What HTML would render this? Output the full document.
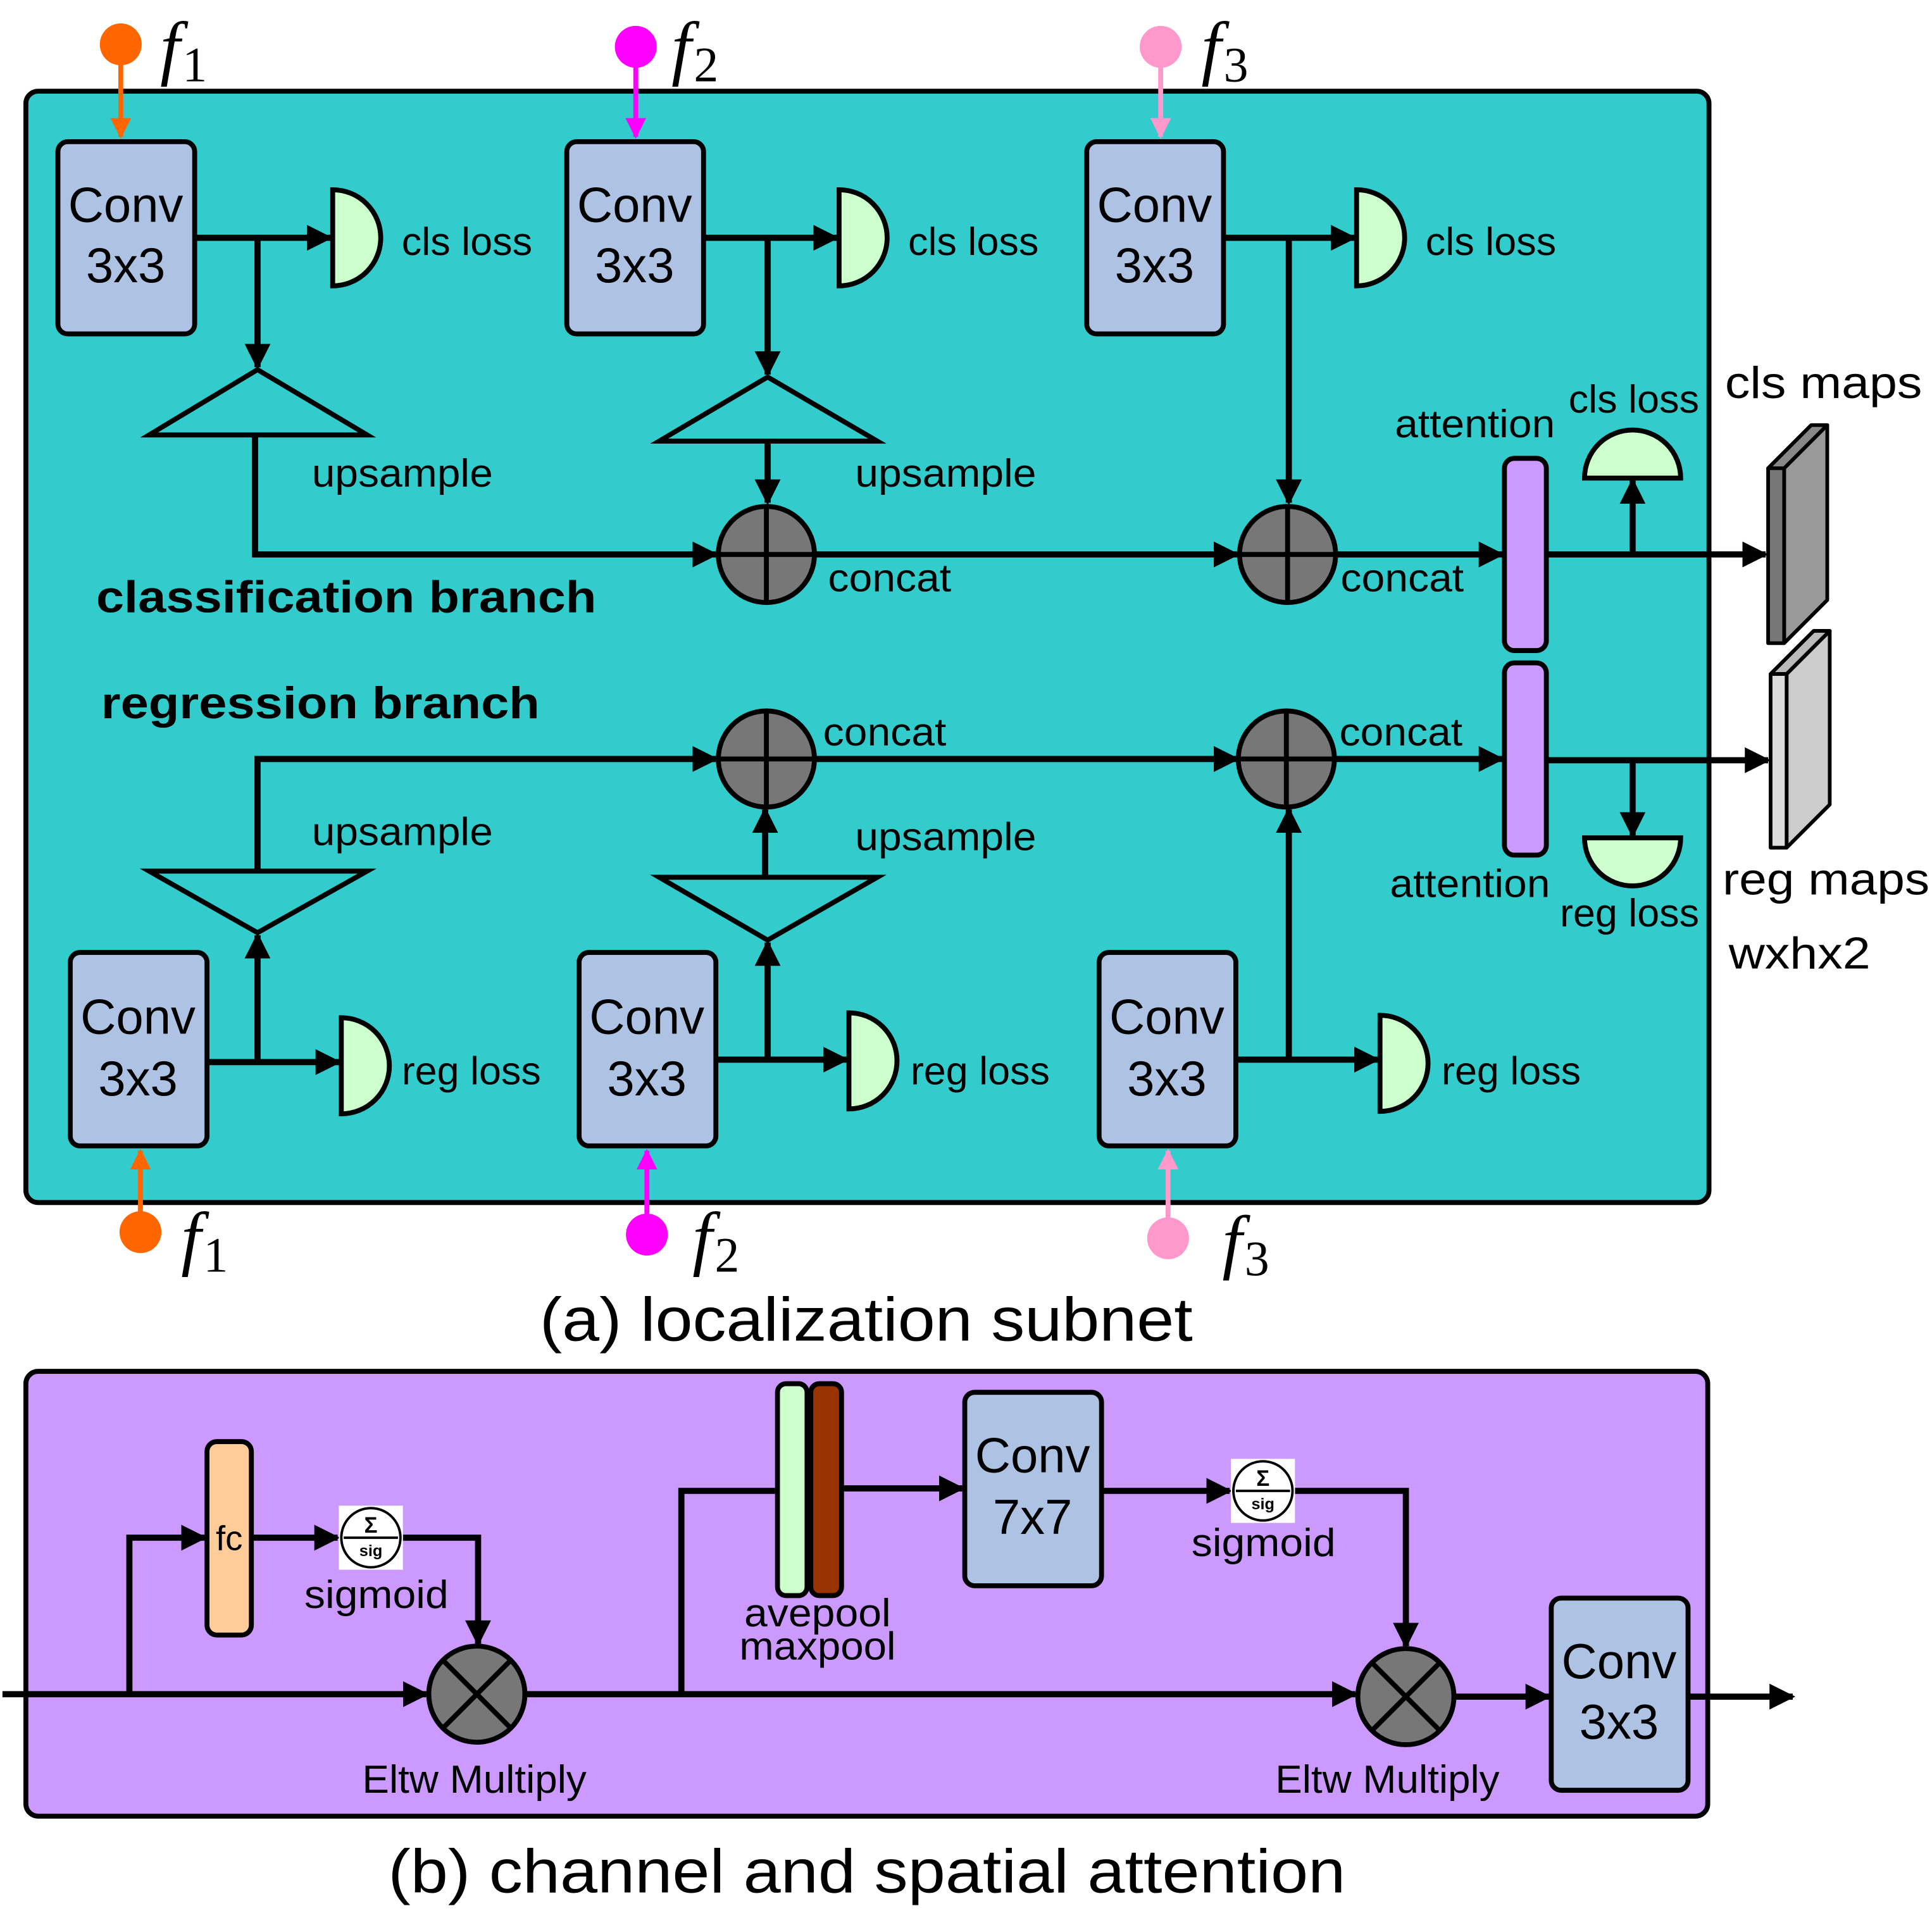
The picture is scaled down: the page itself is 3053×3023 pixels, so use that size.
<!DOCTYPE html>
<html><head><meta charset="utf-8"><style>html,body{margin:0;padding:0;background:#fff}svg{display:block}text{font-family:"Liberation Sans","DejaVu Sans",sans-serif}</style></head><body>
<svg width="3053" height="3023" viewBox="0 0 1568 1552.6" preserveAspectRatio="none" xmlns="http://www.w3.org/2000/svg">
<defs>
<marker id="a" viewBox="0 0 10 10" refX="9" refY="5" markerWidth="4.2" markerHeight="4.2" orient="auto"><path d="M0,0L10,5L0,10z" fill="#000"/></marker>
<marker id="ao" viewBox="0 0 10 10" refX="9" refY="5" markerWidth="4.2" markerHeight="4.2" orient="auto"><path d="M0,0L10,5L0,10z" fill="#FF6600"/></marker>
<marker id="am" viewBox="0 0 10 10" refX="9" refY="5" markerWidth="4.2" markerHeight="4.2" orient="auto"><path d="M0,0L10,5L0,10z" fill="#FF00FF"/></marker>
<marker id="ap" viewBox="0 0 10 10" refX="9" refY="5" markerWidth="4.2" markerHeight="4.2" orient="auto"><path d="M0,0L10,5L0,10z" fill="#FF99CC"/></marker>
</defs>
<rect x="21" y="74" width="1366" height="902" rx="10" fill="#33CCCC" stroke="#000" stroke-width="4"/>
<g fill="none" stroke="#000" stroke-width="5">
<path d="M158,193H268" marker-end="url(#a)"/><path d="M209,193V298" marker-end="url(#a)"/>
<path d="M207,353V450H581" marker-end="url(#a)"/>
<path d="M571,193H679" marker-end="url(#a)"/><path d="M623,193V304" marker-end="url(#a)"/>
<path d="M623,358V408" marker-end="url(#a)"/>
<path d="M662,450H1004" marker-end="url(#a)"/>
<path d="M993,193H1099" marker-end="url(#a)"/><path d="M1046,193V408" marker-end="url(#a)"/>
<path d="M1085,450H1219" marker-end="url(#a)"/>
<path d="M1255,450H1433" marker-end="url(#a)"/><path d="M1325,450V390" marker-end="url(#a)"/>
<path d="M168,862H275" marker-end="url(#a)"/><path d="M209,862V759" marker-end="url(#a)"/>
<path d="M209,707V616H581" marker-end="url(#a)"/>
<path d="M581,860H687" marker-end="url(#a)"/><path d="M623,860V765" marker-end="url(#a)"/>
<path d="M621,712V657" marker-end="url(#a)"/>
<path d="M661,616H1004" marker-end="url(#a)"/>
<path d="M1003,860H1118" marker-end="url(#a)"/><path d="M1046,860V657" marker-end="url(#a)"/>
<path d="M1083,616H1219" marker-end="url(#a)"/>
<path d="M1255,617H1435" marker-end="url(#a)"/><path d="M1325,617V678" marker-end="url(#a)"/>
</g>
<g fill="none" stroke="#000" stroke-width="4">
<path d="M209,300L121,353H298Z"/><path d="M623,306L535,358H712Z"/>
<path d="M121,707H298L209,757Z"/><path d="M535,712H712L623,763Z"/>
</g>
<g fill="#AEC3E4" stroke="#000" stroke-width="4">
<rect x="47" y="115" width="111" height="156" rx="8"/><rect x="460" y="115" width="111" height="156" rx="8"/><rect x="882" y="115" width="111" height="156" rx="8"/>
<rect x="57" y="773" width="111" height="157" rx="8"/><rect x="470" y="773" width="111" height="157" rx="8"/><rect x="892" y="773" width="111" height="157" rx="8"/>
</g>
<g font-size="40" text-anchor="middle">
<text x="102" y="180">Conv</text><text x="102" y="229">3x3</text>
<text x="515" y="180">Conv</text><text x="515" y="229">3x3</text>
<text x="937" y="180">Conv</text><text x="937" y="229">3x3</text>
<text x="112" y="839">Conv</text><text x="112" y="889">3x3</text>
<text x="525" y="839">Conv</text><text x="525" y="889">3x3</text>
<text x="947" y="839">Conv</text><text x="947" y="889">3x3</text>
</g>
<g fill="#CCFFCC" stroke="#000" stroke-width="4">
<path d="M270,154A39,39 0 0 1 270,232Z"/><path d="M681,154A39,39 0 0 1 681,232Z"/><path d="M1101,154A39,39 0 0 1 1101,232Z"/>
<path d="M277,826A39,39 0 0 1 277,904Z"/><path d="M689,822A39,39 0 0 1 689,900Z"/><path d="M1120,824A39,39 0 0 1 1120,902Z"/>
<path d="M1286,388A39,39 0 0 1 1364,388Z"/><path d="M1286,680A39,39 0 0 0 1364,680Z"/>
</g>
<g stroke="#000" stroke-width="4">
<circle cx="622" cy="450" r="39" fill="#777"/><path d="M622,411V489M583,450H661"/>
<circle cx="1045" cy="450" r="39" fill="#777"/><path d="M1045,411V489M1006,450H1084"/>
<circle cx="622" cy="616" r="39" fill="#777"/><path d="M622,577V655M583,616H661"/>
<circle cx="1044" cy="616" r="39" fill="#777"/><path d="M1044,577V655M1005,616H1083"/>
</g>
<rect x="1221" y="372" width="34" height="156" rx="8" fill="#CC99FF" stroke="#000" stroke-width="4"/>
<rect x="1221" y="538" width="34" height="156" rx="8" fill="#CC99FF" stroke="#000" stroke-width="4"/>
<g stroke="#000" stroke-width="3" stroke-linejoin="round">
<path d="M1448,380L1483,345V487L1448,522Z" fill="#999"/>
<path d="M1435,380L1470,345H1483L1448,380Z" fill="#888"/>
<rect x="1435" y="380" width="13" height="142" fill="#777"/>
<path d="M1450,547L1485,512V653L1450,688Z" fill="#ccc"/>
<path d="M1437,547L1472,512H1485L1450,547Z" fill="#bbb"/>
<rect x="1437" y="547" width="13" height="141" fill="#ddd"/>
</g>
<g stroke-width="4">
<path d="M98,40V111" stroke="#FF6600" marker-end="url(#ao)"/><circle cx="98" cy="36" r="17" fill="#FF6600"/>
<path d="M516,40V111" stroke="#FF00FF" marker-end="url(#am)"/><circle cx="516" cy="38" r="17" fill="#FF00FF"/>
<path d="M942,40V111" stroke="#FF99CC" marker-end="url(#ap)"/><circle cx="942" cy="38" r="17" fill="#FF99CC"/>
<path d="M114,998V934" stroke="#FF6600" marker-end="url(#ao)"/><circle cx="114" cy="1000" r="17" fill="#FF6600"/>
<path d="M525,1000V934" stroke="#FF00FF" marker-end="url(#am)"/><circle cx="525" cy="1002" r="17" fill="#FF00FF"/>
<path d="M948,1003V934" stroke="#FF99CC" marker-end="url(#ap)"/><circle cx="948" cy="1005" r="17" fill="#FF99CC"/>
</g>
<g font-style="italic" font-size="58">
<text x="130" y="58" style="font-family:'Liberation Serif','DejaVu Serif',serif">f<tspan font-style="normal" font-size="40" dy="8" dx="2">1</tspan></text>
<text x="545" y="58" style="font-family:'Liberation Serif','DejaVu Serif',serif">f<tspan font-style="normal" font-size="40" dy="8" dx="2">2</tspan></text>
<text x="975" y="58" style="font-family:'Liberation Serif','DejaVu Serif',serif">f<tspan font-style="normal" font-size="40" dy="8" dx="2">3</tspan></text>
<text x="147" y="1024" style="font-family:'Liberation Serif','DejaVu Serif',serif">f<tspan font-style="normal" font-size="40" dy="8" dx="2">1</tspan></text>
<text x="562" y="1024" style="font-family:'Liberation Serif','DejaVu Serif',serif">f<tspan font-style="normal" font-size="40" dy="8" dx="2">2</tspan></text>
<text x="992" y="1027" style="font-family:'Liberation Serif','DejaVu Serif',serif">f<tspan font-style="normal" font-size="40" dy="8" dx="2">3</tspan></text>
</g>
<g font-size="32" lengthAdjust="spacingAndGlyphs">
<text x="326" y="207" textLength="106" lengthAdjust="spacingAndGlyphs">cls loss</text><text x="737" y="207" textLength="106" lengthAdjust="spacingAndGlyphs">cls loss</text><text x="1157" y="207" textLength="106" lengthAdjust="spacingAndGlyphs">cls loss</text>
<text x="253" y="395" textLength="147" lengthAdjust="spacingAndGlyphs">upsample</text><text x="694" y="395" textLength="147" lengthAdjust="spacingAndGlyphs">upsample</text>
<text x="672" y="480" textLength="100" lengthAdjust="spacingAndGlyphs">concat</text><text x="1088" y="480" textLength="100" lengthAdjust="spacingAndGlyphs">concat</text>
<text x="668" y="605" textLength="100" lengthAdjust="spacingAndGlyphs">concat</text><text x="1087" y="605" textLength="100" lengthAdjust="spacingAndGlyphs">concat</text>
<text x="253" y="686" textLength="147" lengthAdjust="spacingAndGlyphs">upsample</text><text x="694" y="690" textLength="147" lengthAdjust="spacingAndGlyphs">upsample</text>
<text x="326" y="880" textLength="113" lengthAdjust="spacingAndGlyphs">reg loss</text><text x="739" y="880" textLength="113" lengthAdjust="spacingAndGlyphs">reg loss</text><text x="1170" y="880" textLength="113" lengthAdjust="spacingAndGlyphs">reg loss</text>
<text x="1132" y="355" textLength="130" lengthAdjust="spacingAndGlyphs">attention</text><text x="1273" y="335" textLength="106" lengthAdjust="spacingAndGlyphs">cls loss</text>
<text x="1128" y="728" textLength="130" lengthAdjust="spacingAndGlyphs">attention</text><text x="1266" y="752" textLength="113" lengthAdjust="spacingAndGlyphs">reg loss</text>
</g>
<g font-size="36">
<text x="1400" y="323" textLength="160" lengthAdjust="spacingAndGlyphs">cls maps</text><text x="1398" y="726" textLength="168" lengthAdjust="spacingAndGlyphs">reg maps</text><text x="1403" y="786" textLength="115" lengthAdjust="spacingAndGlyphs">wxhx2</text>
</g>
<text x="78" y="497" font-size="36" font-weight="bold" textLength="406" lengthAdjust="spacingAndGlyphs">classification branch</text>
<text x="82" y="583" font-size="36" font-weight="bold" textLength="356" lengthAdjust="spacingAndGlyphs">regression branch</text>
<text x="438" y="1088" font-size="50" textLength="530" lengthAdjust="spacingAndGlyphs">(a) localization subnet</text>

<rect x="21" y="1113" width="1365" height="361" rx="10" fill="#CC99FF" stroke="#000" stroke-width="4"/>
<g fill="none" stroke="#000" stroke-width="5">
<path d="M2,1375H346" marker-end="url(#a)"/>
<path d="M105,1375V1248H166" marker-end="url(#a)"/>
<path d="M204,1248H274" marker-end="url(#a)"/>
<path d="M327,1248H388V1334" marker-end="url(#a)"/>
<path d="M426,1375H1100" marker-end="url(#a)"/>
<path d="M553,1375V1210H629"/>
<path d="M683,1208H781" marker-end="url(#a)"/>
<path d="M894,1210H998" marker-end="url(#a)"/>
<path d="M1051,1210H1141V1336" marker-end="url(#a)"/>
<path d="M1180,1377H1257" marker-end="url(#a)"/>
<path d="M1370,1377H1455" marker-end="url(#a)"/>
</g>
<rect x="168" y="1170" width="36" height="157" rx="8" fill="#FFCC99" stroke="#000" stroke-width="4"/>
<text x="186" y="1258" font-size="28" text-anchor="middle">fc</text>
<rect x="631" y="1123" width="24" height="172" rx="7" fill="#CCFFCC" stroke="#000" stroke-width="4"/>
<rect x="658" y="1123" width="25" height="172" rx="7" fill="#993300" stroke="#000" stroke-width="4"/>
<rect x="783" y="1130" width="111" height="157" rx="8" fill="#AEC3E4" stroke="#000" stroke-width="4"/>
<text x="838" y="1195" font-size="40" text-anchor="middle">Conv</text><text x="838" y="1245" font-size="40" text-anchor="middle">7x7</text>
<rect x="1259" y="1297" width="111" height="156" rx="8" fill="#AEC3E4" stroke="#000" stroke-width="4"/>
<text x="1314" y="1362" font-size="40" text-anchor="middle">Conv</text><text x="1314" y="1411" font-size="40" text-anchor="middle">3x3</text>
<g>
<rect x="275" y="1222" width="52" height="52" fill="#fff"/><circle cx="301" cy="1248" r="24" fill="#fff" stroke="#000" stroke-width="2"/><path d="M279,1248H323" stroke="#000" stroke-width="2"/>
<text x="301" y="1244" font-size="18" text-anchor="middle" font-weight="bold">Σ</text><text x="301" y="1263" font-size="13" text-anchor="middle" font-weight="bold">sig</text>
<rect x="999" y="1184" width="52" height="52" fill="#fff"/><circle cx="1025" cy="1210" r="24" fill="#fff" stroke="#000" stroke-width="2"/><path d="M1003,1210H1047" stroke="#000" stroke-width="2"/>
<text x="1025" y="1206" font-size="18" text-anchor="middle" font-weight="bold">Σ</text><text x="1025" y="1225" font-size="13" text-anchor="middle" font-weight="bold">sig</text>
</g>
<g stroke="#000" stroke-width="4">
<circle cx="387" cy="1375" r="39" fill="#777"/><path d="M359,1347L415,1403M415,1347L359,1403"/>
<circle cx="1141" cy="1377" r="39" fill="#777"/><path d="M1113,1349L1169,1405M1169,1349L1113,1405"/>
</g>
<g font-size="32">
<text x="247" y="1305" textLength="117" lengthAdjust="spacingAndGlyphs">sigmoid</text><text x="967" y="1263" textLength="117" lengthAdjust="spacingAndGlyphs">sigmoid</text>
<text x="604" y="1320" textLength="119" lengthAdjust="spacingAndGlyphs">avepool</text><text x="600" y="1347" textLength="127" lengthAdjust="spacingAndGlyphs">maxpool</text>
<text x="294" y="1455" textLength="182" lengthAdjust="spacingAndGlyphs">Eltw Multiply</text><text x="1035" y="1455" textLength="182" lengthAdjust="spacingAndGlyphs">Eltw Multiply</text>
</g>
<text x="315" y="1536" font-size="50" textLength="777" lengthAdjust="spacingAndGlyphs">(b) channel and spatial attention</text>
</svg>
</body></html>
